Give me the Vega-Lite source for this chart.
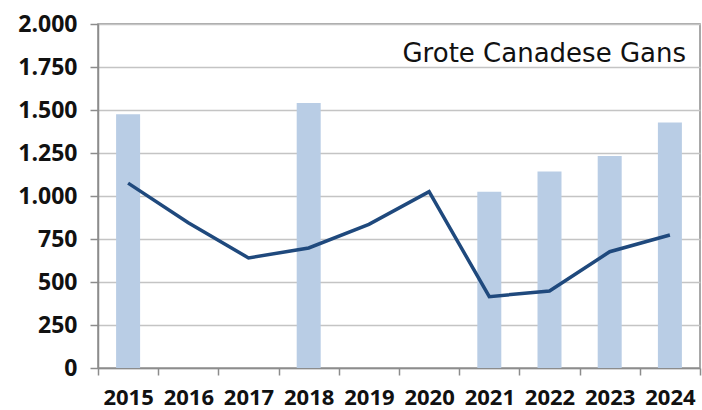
{
  "$schema": "https://vega.github.io/schema/vega-lite/v6.json",
  "autosize": "none",
  "width": 602,
  "height": 344,
  "padding": {"left": 98, "top": 24, "right": 2, "bottom": 42},
  "background": "white",
  "config": {
    "locale": {"number": {"decimal": ",", "thousands": ".", "grouping": [3], "currency": ["€", ""]}},
    "view": {"stroke": "#8c8c8c", "strokeWidth": 1.5},
    "font": "Open Sans"
  },
  "title": {
    "text": "Grote Canadese Gans",
    "anchor": "end",
    "frame": "group",
    "orient": "top",
    "offset": -75,
    "baseline": "alphabetic",
    "dx": -14,
    "font": "DejaVu Sans",
    "fontSize": 26,
    "fontWeight": "normal",
    "color": "#111111"
  },
  "data": {
    "values": [
      {"jaar": "2015", "telling": 1475, "trend": 1075},
      {"jaar": "2016", "telling": null, "trend": 845},
      {"jaar": "2017", "telling": null, "trend": 640},
      {"jaar": "2018", "telling": 1540, "trend": 698},
      {"jaar": "2019", "telling": null, "trend": 835},
      {"jaar": "2020", "telling": null, "trend": 1025},
      {"jaar": "2021", "telling": 1025, "trend": 415},
      {"jaar": "2022", "telling": 1143, "trend": 448},
      {"jaar": "2023", "telling": 1233, "trend": 676},
      {"jaar": "2024", "telling": 1428, "trend": 773}
    ]
  },
  "encoding": {
    "x": {
      "field": "jaar",
      "type": "nominal",
      "scale": {"paddingInner": 0, "paddingOuter": 0},
      "axis": {
        "title": null,
        "labelAngle": 0,
        "tickBand": "extent",
        "tickSize": 7,
        "tickColor": "#8c8c8c",
        "tickWidth": 1.5,
        "domainColor": "#8c8c8c",
        "domainWidth": 1.5,
        "labelPadding": 12,
        "labelFont": "Open Sans",
        "labelFontSize": 22,
        "labelFontWeight": "bold",
        "labelColor": "#111111",
        "grid": false
      }
    }
  },
  "layer": [
    {
      "transform": [{"filter": "datum.telling != null"}],
      "mark": {"type": "bar", "color": "#b9cde5", "size": 24},
      "encoding": {
        "y": {
          "field": "telling",
          "type": "quantitative",
          "scale": {"domain": [0, 2000], "nice": false},
          "axis": {
            "title": null,
            "values": [0, 250, 500, 750, 1000, 1250, 1500, 1750, 2000],
            "format": ",d",
            "grid": true,
            "gridColor": "#c4c4c4",
            "gridWidth": 1.5,
            "tickSize": 8,
            "tickColor": "#8c8c8c",
            "tickWidth": 1.5,
            "domainColor": "#8c8c8c",
            "domainWidth": 1.5,
            "labelPadding": 13,
            "labelFont": "Open Sans",
            "labelFontSize": 23,
            "labelFontWeight": "bold",
            "labelColor": "#111111"
          }
        }
      }
    },
    {
      "mark": {"type": "line", "color": "#1f497d", "strokeWidth": 3.5},
      "encoding": {
        "y": {"field": "trend", "type": "quantitative"}
      }
    }
  ]
}
